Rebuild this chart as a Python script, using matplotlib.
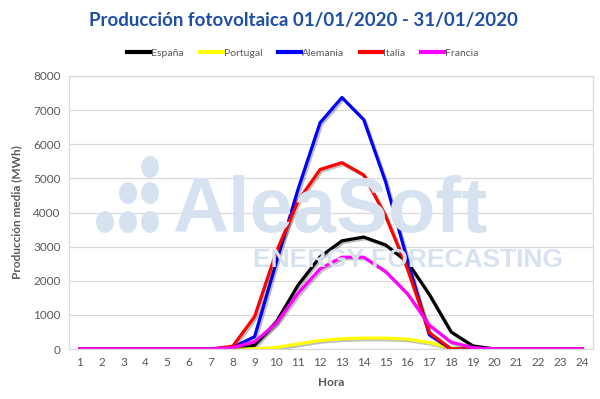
import matplotlib
matplotlib.use('Agg')
import matplotlib.pyplot as plt
import matplotlib.patheffects as pe
from matplotlib.patches import Ellipse

plt.rcParams['font.family'] = ['Lato', 'DejaVu Sans']

horas = list(range(1, 25))

espana = [0, 0, 0, 0, 0, 0, 0, 0, 110, 800, 1880, 2700, 3170, 3280, 3050, 2550, 1600, 500, 90, 0, 0, 0, 0, 0]
portugal = [0, 0, 0, 0, 0, 0, 0, 0, 0, 50, 150, 250, 300, 320, 320, 290, 190, 30, 0, 0, 0, 0, 0, 0]
alemania = [0, 0, 0, 0, 0, 0, 0, 50, 360, 2550, 4700, 6630, 7370, 6720, 4900, 2600, 420, 0, 0, 0, 0, 0, 0, 0]
italia = [0, 0, 0, 0, 0, 0, 0, 80, 950, 2850, 4350, 5260, 5460, 5100, 3900, 2350, 480, 0, 0, 0, 0, 0, 0, 0]
francia = [0, 0, 0, 0, 0, 0, 0, 40, 210, 760, 1640, 2350, 2690, 2690, 2270, 1620, 700, 200, 40, 0, 0, 0, 0, 0]

series = [('España', espana, '#000000'),
          ('Portugal', portugal, '#ffff00'),
          ('Alemania', alemania, '#0000ff'),
          ('Italia', italia, '#ff0000'),
          ('Francia', francia, '#ff00ff')]

gris = '#595959'
W, H = 600, 399
fig = plt.figure(figsize=(6, 3.99), dpi=100, facecolor='white')
ax = fig.add_axes([69/W, 1-349/H, (593-69)/W, (349-76)/H])

# marca de agua (logo de fondo)
wm = '#d7e2f1'
wm_font = ['Liberation Sans', 'DejaVu Sans']
fig.text(172/W, 1-232/H, 'AleaSoft', fontsize=56, fontweight='bold', color=wm,
         family=wm_font, ha='left', va='baseline', zorder=0)
fig.text(253/W, 1-267/H, 'ENERGY FORECASTING', fontsize=19, fontweight='bold', color=wm,
         family=wm_font, ha='left', va='baseline', zorder=0)
for (px, py) in [(150, 167), (128, 193), (150, 193), (105, 222), (128, 222), (150, 222)]:
    fig.patches.append(Ellipse((px/W, 1-py/H), 18/W, 22/H, transform=fig.transFigure,
                               facecolor=wm, edgecolor='none', zorder=0))
ax.patch.set_alpha(0)

for nombre, valores, color in series:
    ax.plot(horas, valores, color=color, linewidth=2.3, label=nombre, solid_joinstyle='round',
            path_effects=[pe.SimpleLineShadow(offset=(1.2, -1.2), alpha=0.25), pe.Normal()])

ax.set_xlim(0.5, 24.5)
ax.set_ylim(0, 8000)
ax.set_xticks(horas)
ax.set_yticks(range(0, 8001, 1000))
ax.grid(axis='y', color='#d9d9d9', linewidth=0.9)
ax.set_axisbelow(True)
for s in ax.spines.values():
    s.set_color('#d9d9d9')
    s.set_linewidth(0.9)
ax.tick_params(length=0, colors=gris, labelsize=8.5, pad=6)
ax.set_xlabel('Hora', fontsize=8.5, fontweight='bold', color=gris, labelpad=6)
ax.set_ylabel('Producción media (MWh)', fontsize=8.5, fontweight='bold', color=gris, labelpad=8)

fig.text(0.505, 0.948, 'Producción fotovoltaica 01/01/2020 - 31/01/2020', fontsize=13.5,
         fontweight='bold', color='#1f4fa3', ha='center', va='center')
leg = fig.legend(loc='center', bbox_to_anchor=(0.505, 0.867), ncol=5, frameon=False,
                 fontsize=7.5, handlelength=2.2, handletextpad=0.1, columnspacing=1.5)
for t in leg.get_texts():
    t.set_color(gris)
for l in leg.get_lines():
    l.set_linewidth(3)
    l.set_path_effects([])

fig.savefig('out.png', dpi=100, facecolor='white')
